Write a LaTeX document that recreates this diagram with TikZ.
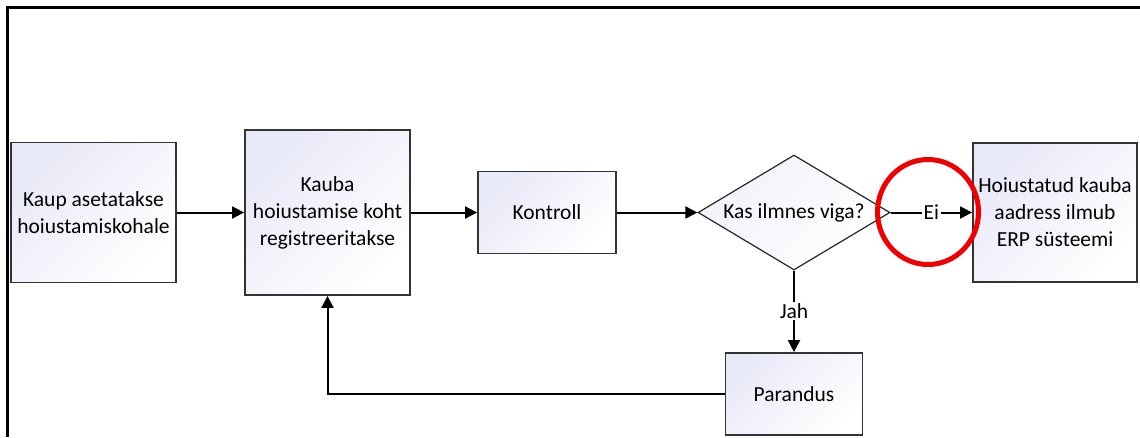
\documentclass[tikz,border=0pt]{standalone}
\usepackage{fontspec}
\setmainfont{Carlito}
\usetikzlibrary{arrows.meta,shapes.geometric}
\definecolor{boxtint}{RGB}{232,233,247}
\definecolor{ringred}{RGB}{240,0,0}

\begin{document}
\begin{tikzpicture}[x=1pt,y=-1pt,
    font=\fontsize{21.5}{27}\selectfont,
    stepbox/.style={draw=black!80, line width=1.8pt, top color=boxtint, bottom color=white,
        shading angle=45, align=center, inner sep=2pt},
    decision/.style={diamond, draw=black!85, line width=1.2pt, top color=boxtint!60, bottom color=white,
        shading angle=45, minimum width=192pt, minimum height=115pt, inner sep=0pt},
    flow/.style={line width=2pt, -{Triangle[length=12pt,width=12pt]}},
    tag/.style={fill=white, inner sep=1.5pt}]
    \useasboundingbox (0,0) rectangle (1140,437);

    % Page frame
    \draw[line width=3pt] (7,437) -- (7,7) -- (1140,7);

    % Process steps
    \node[stepbox, minimum width=165pt, minimum height=140pt] (kaup) at (93.5,212.5)
        {Kaup asetatakse\\hoiustamiskohale};
    \node[stepbox, minimum width=165pt, minimum height=165pt] (koht) at (327.5,212.5)
        {Kauba\\hoiustamise koht\\registreeritakse};
    \node[stepbox, minimum width=138pt, minimum height=82pt] (kontroll) at (547,212.5) {Kontroll};
    \node[decision] (viga) at (794,212.5) {};
    \node (vigatext) at (viga) {Kas ilmnes viga?};
    \node[stepbox, minimum width=164pt, minimum height=139pt] (erp) at (1055,212.5)
        {Hoiustatud kauba\\aadress ilmub\\ERP süsteemi};
    \node[stepbox, minimum width=137pt, minimum height=82pt] (parandus) at (794,394) {Parandus};

    % Connectors
    \draw[flow] (kaup) -- (koht);
    \draw[flow] (koht) -- (kontroll);
    \draw[flow] (kontroll) -- (viga);
    \draw[flow] (viga) -- node[tag] (ei) {Ei} (erp);
    \draw[flow] (viga) -- node[tag] (jah) {Jah} (parandus);
    \draw[flow] (parandus.west) -| (koht.south);

    % Highlight ring
    \draw[ringred, line width=5pt] (928,212) ellipse [x radius=50.5pt, y radius=52.5pt];
\end{tikzpicture}
\end{document}
